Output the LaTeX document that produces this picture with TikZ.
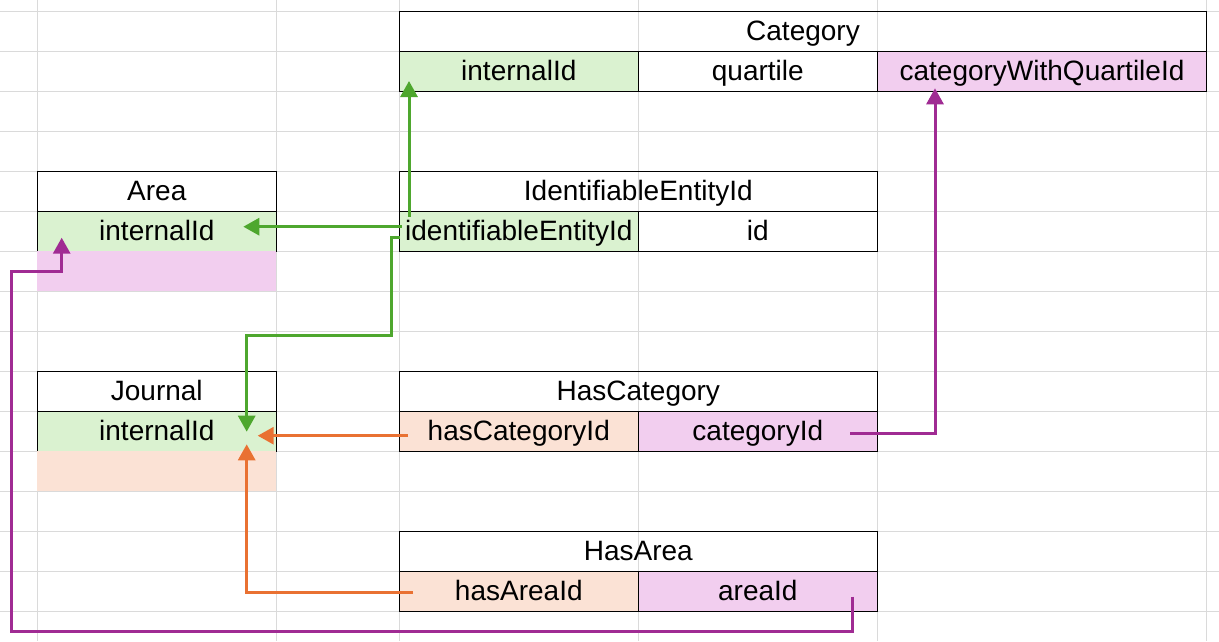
\documentclass[tikz,border=0pt]{standalone}
\usepackage{fontspec}
\setmainfont{Liberation Sans}
\usetikzlibrary{arrows.meta,calc}
\definecolor{gridc}{HTML}{DADADA}
\definecolor{gfill}{HTML}{DAF2D0}
\definecolor{ofill}{HTML}{FBE2D5}
\definecolor{pfill}{HTML}{F2CEEF}
\definecolor{garrow}{HTML}{4EA72E}
\definecolor{oarrow}{HTML}{E97132}
\definecolor{parrow}{HTML}{A02B93}
\tikzset{
  cell/.style={draw=black, line width=1pt, minimum height=40pt, minimum width=239pt,
    inner sep=0pt, text height=19pt, text depth=0pt, font=\fontsize{28}{30}\selectfont},
  widecell/.style={cell, minimum width=478pt},
  band/.style={minimum height=40pt, minimum width=239pt, inner sep=0pt},
  gcell/.style={cell, fill=gfill},
  ocell/.style={cell, fill=ofill},
  pcell/.style={cell, fill=pfill},
  link/.style={line width=3pt, -{Triangle[length=16pt,width=17pt]}},
}
\begin{document}
\begin{tikzpicture}[x=1pt,y=-1pt]
\useasboundingbox (0,0) rectangle (1219,641);
\fill[white] (0,0) rectangle (1219,641);
% spreadsheet grid
\foreach \gx in {37.3,276.3,399.3,638.3,877.3,1206.7}
  \draw[gridc, line width=1pt] (\gx,0) -- (\gx,641);
\foreach \gy in {11.3,51.3,...,611.3}
  \draw[gridc, line width=1pt] (0,\gy) -- (1219,\gy);

% Category
\node[cell, minimum width=807.4pt] (cat) at (803,31.3) {Category};
\node[gcell] (cid) at (518.8,71.3) {internalId};
\node[cell] (cq) at (757.8,71.3) {quartile};
\node[pcell, minimum width=329.4pt] (cwq) at (1042,71.3) {categoryWithQuartileId};

% Area
\node[cell] (area) at (156.8,191.3) {Area};
\node[gcell] (aid) at (156.8,231.3) {internalId};
\node[band, fill=pfill] (aext) at (156.8,271.3) {};

% IdentifiableEntityId
\node[widecell] (ie) at (638.3,191.3) {IdentifiableEntityId};
\node[gcell] (ieid) at (518.8,231.3) {identifiableEntityId};
\node[cell] (iid) at (757.8,231.3) {id};

% Journal
\node[cell] (jour) at (156.8,391.3) {Journal};
\node[gcell] (jid) at (156.8,431.3) {internalId};
\node[band, fill=ofill] (jext) at (156.8,471.3) {};

% HasCategory
\node[widecell] (hc) at (638.3,391.3) {HasCategory};
\node[ocell] (hcid) at (518.8,431.3) {hasCategoryId};
\node[pcell] (hccat) at (757.8,431.3) {categoryId};

% HasArea
\node[widecell] (ha) at (638.3,551.3) {HasArea};
\node[ocell] (haid) at (518.8,591.3) {hasAreaId};
\node[pcell] (haarea) at (757.8,591.3) {areaId};

% green connectors
\draw[link, garrow] ($(ieid.center)+(-117,-4.6)$) -- ($(aid.center)+(86.5,-4.6)$);
\draw[link, garrow] ($(ieid.center)+(-109.8,-14.6)$) -- ($(cid.center)+(-109.8,9.7)$);
\draw[link, garrow] ($(ieid.center)+(-118.8,6.4)$) -- ++(-9,0) -- ++(0,97.6) -| ($(jid.center)+(89.9,0.4)$);
% orange connectors
\draw[link, oarrow] ($(hcid.center)+(-110.8,4.4)$) -- ($(jid.center)+(100.9,4.4)$);
\draw[link, oarrow] ($(haid.center)+(-105.8,1)$) -| ($(jid.center)+(89.9,13)$);
% purple connectors
\draw[link, parrow] ($(hccat.center)+(92.2,2.4)$) -| ($(cwq.center)+(-107,17)$);
\draw[link, parrow] ($(haarea.center)+(94.9,5.4)$) -- ++(0,35) -- ++(-841,0) -- ++(0,-360) -| ($(aid.center)+(-95.1,6.4)$);
\end{tikzpicture}
\end{document}
